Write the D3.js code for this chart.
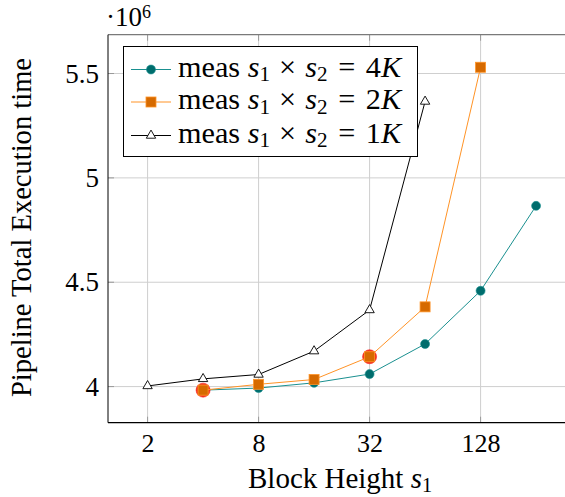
<!DOCTYPE html>
<html><head><meta charset="utf-8">
<script src="https://cdn.jsdelivr.net/npm/d3@7"></script>
<style>body{margin:0;background:#fff}svg{display:block}svg text{font-family:"Liberation Serif","Times New Roman","DejaVu Serif",serif !important;fill:#000}</style>
</head><body><svg id="c" width="565" height="497"></svg>
<script>
// Block heights s1 (log2 axis), values in units of 10^6
const blocks4K = [4, 8, 16, 32, 64, 128, 256];
const meas4K   = [3.983, 3.993, 4.018, 4.060, 4.204, 4.459, 4.866];
const blocks2K = [4, 8, 16, 32, 64, 128];
const meas2K   = [3.983, 4.011, 4.034, 4.143, 4.382, 5.530];
const blocks1K = [2, 4, 8, 16, 32, 64];
const meas1K   = [4.003, 4.037, 4.058, 4.170, 4.367, 5.366];
const highlightX = [4, 32];
const highlightY = [3.983, 4.143];
const xTicks = [2, 8, 32, 128];
const yTicks = [4, 4.5, 5, 5.5];
const seriesNames = ["4", "2", "1"];

const svg = d3.select("#c");
const L = 108, R = 570, T = 34.7, B = 422.7;
const x = d3.scaleLog().base(2).domain([1.22, 391]).range([L, R]);
const y = d3.scaleLinear().domain([3.827, 5.686]).range([B, T]);

function fit(sel, target) {
  let fs = parseFloat(sel.attr("font-size"));
  for (let k = 0; k < 3; k++) {
    const w = sel.node().getBBox().width;
    if (!w) break;
    fs = fs * target / w;
    sel.attr("font-size", fs);
  }
}

// grid
svg.append("g").selectAll("line").data(xTicks).join("line")
  .attr("x1", d => x(d)).attr("x2", d => x(d)).attr("y1", T).attr("y2", B)
  .attr("stroke", "#cfcfcf").attr("stroke-width", 1);
svg.append("g").selectAll("line").data(yTicks).join("line")
  .attr("x1", L).attr("x2", R).attr("y1", d => y(d)).attr("y2", d => y(d))
  .attr("stroke", "#cfcfcf").attr("stroke-width", 1);

// axes via d3
const xAxis = d3.axisBottom(x).tickValues(xTicks).tickFormat(d => d).tickSize(0).tickPadding(0);
const gx = svg.append("g").attr("transform", `translate(0,${B})`).call(xAxis);
gx.select(".domain").remove();
gx.attr("font-family", null).attr("font-size", null);
gx.selectAll("text").attr("font-size", 26).attr("dy", null).attr("y", 452 - B);
const yAxis = d3.axisLeft(y).tickValues(yTicks).tickFormat(d => d).tickSize(0).tickPadding(9);
const gy = svg.append("g").attr("transform", `translate(${L},0)`).call(yAxis);
gy.select(".domain").remove();
gy.attr("font-family", null).attr("font-size", null);
gy.selectAll("text").attr("font-size", 27);

// inner tick marks
svg.append("g").selectAll("line").data(xTicks).join("line")
  .attr("x1", d => x(d)).attr("x2", d => x(d)).attr("y1", B).attr("y2", B - 6)
  .attr("stroke", "#999").attr("stroke-width", 1);
svg.append("g").selectAll("line").data(xTicks).join("line")
  .attr("x1", d => x(d)).attr("x2", d => x(d)).attr("y1", T).attr("y2", T + 6)
  .attr("stroke", "#999").attr("stroke-width", 1);
svg.append("g").selectAll("line").data(yTicks).join("line")
  .attr("x1", L).attr("x2", L + 6).attr("y1", d => y(d)).attr("y2", d => y(d))
  .attr("stroke", "#999").attr("stroke-width", 1);

// frame
svg.append("line").attr("x1", L).attr("x2", R).attr("y1", T).attr("y2", T).attr("stroke", "#7a7a7a").attr("stroke-width", 1.2);
svg.append("line").attr("x1", L).attr("x2", L).attr("y1", T).attr("y2", B).attr("stroke", "#000").attr("stroke-width", 1);
svg.append("line").attr("x1", L).attr("x2", R).attr("y1", B).attr("y2", B).attr("stroke", "#000").attr("stroke-width", 1.2);

const line = d3.line().x(d => x(d[0])).y(d => y(d[1]));
const zip = (a, b) => a.map((v, i) => [v, b[i]]);

const d4 = zip(blocks4K, meas4K), d2 = zip(blocks2K, meas2K), d1 = zip(blocks1K, meas1K);
const tealLine = "#1a9090", tealFill = "#006d6d";
const orLine = "#ff9326", orFill = "#d66a00";

// teal
svg.append("path").datum(d4).attr("d", line).attr("fill", "none").attr("stroke", tealLine).attr("stroke-width", 1);
svg.append("g").selectAll("circle").data(d4).join("circle")
  .attr("cx", d => x(d[0])).attr("cy", d => y(d[1])).attr("r", 4.5)
  .attr("fill", tealFill).attr("stroke", tealLine).attr("stroke-width", 0.6);
// highlight
svg.append("g").selectAll("circle").data(zip(highlightX, highlightY)).join("circle")
  .attr("cx", d => x(d[0])).attr("cy", d => y(d[1])).attr("r", 7)
  .attr("fill", "#f03c1e").attr("stroke", "#ff1a1a").attr("stroke-width", 0.6);
// orange
svg.append("path").datum(d2).attr("d", line).attr("fill", "none").attr("stroke", orLine).attr("stroke-width", 1);
svg.append("g").selectAll("rect").data(d2).join("rect")
  .attr("x", d => x(d[0]) - 5).attr("y", d => y(d[1]) - 5).attr("width", 10).attr("height", 10)
  .attr("fill", orFill).attr("stroke", orLine).attr("stroke-width", 0.8);
// black
const tri = d3.symbol().type(d3.symbolTriangle).size(38);
svg.append("path").datum(d1).attr("d", line).attr("fill", "none").attr("stroke", "#000").attr("stroke-width", 1);
svg.append("g").selectAll("path").data(d1).join("path")
  .attr("transform", d => `translate(${x(d[0])},${y(d[1])})`).attr("d", tri)
  .attr("fill", "#fff").attr("stroke", "#000").attr("stroke-width", 0.9);

// legend
const lg = svg.append("g");
lg.append("rect").attr("x", 123.5).attr("y", 46.5).attr("width", 294).attr("height", 110)
  .attr("fill", "#fff").attr("stroke", "#000").attr("stroke-width", 1);
const rowsY = [69.5, 102, 135.5];
seriesNames.forEach((n, i) => {
  const cy = rowsY[i];
  const col = i === 0 ? tealLine : i === 1 ? orLine : "#000";
  lg.append("line").attr("x1", 131).attr("x2", 171).attr("y1", cy).attr("y2", cy).attr("stroke", col).attr("stroke-width", 1);
  if (i === 0) lg.append("circle").attr("cx", 151).attr("cy", cy).attr("r", 4.5).attr("fill", tealFill).attr("stroke", tealLine).attr("stroke-width", 0.6);
  if (i === 1) lg.append("rect").attr("x", 146).attr("y", cy - 5).attr("width", 10).attr("height", 10).attr("fill", orFill).attr("stroke", orLine).attr("stroke-width", 0.8);
  if (i === 2) lg.append("path").attr("transform", `translate(151,${cy})`).attr("d", tri).attr("fill", "#fff").attr("stroke", "#000").attr("stroke-width", 0.9);
  const t = lg.append("text").attr("x", 178).attr("y", cy + 7).attr("font-size", 29);
  t.append("tspan").text("meas ");
  t.append("tspan").attr("font-style", "italic").text("s");
  t.append("tspan").attr("font-size", "0.7em").attr("dy", "0.22em").text("1");
  t.append("tspan").attr("dy", "-0.154em").attr("dx", "0.3em").text("×");
  t.append("tspan").attr("dx", "0.3em").attr("font-style", "italic").text("s");
  t.append("tspan").attr("font-size", "0.7em").attr("dy", "0.22em").text("2");
  t.append("tspan").attr("dy", "-0.154em").attr("dx", "0.35em").text("=");
  t.append("tspan").attr("dx", "0.35em").text(n);
  t.append("tspan").attr("font-style", "italic").text("K");
  fit(t, 225);
});

// labels
const xl = svg.append("text").attr("x", 248).attr("y", 488).attr("font-size", 29);
xl.append("tspan").text("Block Height ");
xl.append("tspan").attr("font-style", "italic").text("s");
xl.append("tspan").attr("font-size", "0.7em").attr("dy", "0.22em").text("1");
fit(xl, 184);

const yl = svg.append("text").attr("transform", "translate(31,227.5) rotate(-90)").attr("text-anchor", "middle")
  .attr("font-size", 29).text("Pipeline Total Execution time");
fit(yl, 339);

const ex = svg.append("text").attr("x", 106).attr("y", 26).attr("font-size", 27);
ex.append("tspan").text("·10");
ex.append("tspan").attr("font-size", 18).attr("dy", -8).text("6");
</script></body></html>
